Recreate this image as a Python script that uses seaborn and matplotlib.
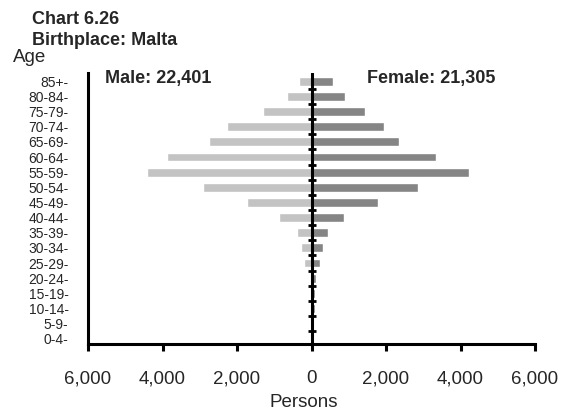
import matplotlib
matplotlib.use("Agg")
import matplotlib.pyplot as plt
import seaborn as sns
import pandas as pd
import numpy as np
from matplotlib.ticker import FuncFormatter

ages = ["85+", "80-84", "75-79", "70-74", "65-69", "60-64", "55-59", "50-54", "45-49",
        "40-44", "35-39", "30-34", "25-29", "20-24", "15-19", "10-14", "5-9", "0-4"]
male = [340, 663, 1307, 2274, 2757, 3885, 4422, 2918, 1737,
        878, 400, 270, 200, 50, 30, 30, 20, 20]
female = [565, 910, 1440, 1950, 2340, 3350, 4220, 2870, 1790,
          885, 450, 320, 240, 130, 90, 90, 20, 20]
xticks = [-6000, -4000, -2000, 0, 2000, 4000, 6000]

sns.set_theme(style="white")
plt.rcParams["font.family"] = ["Liberation Sans", "DejaVu Sans"]

df = pd.DataFrame({
    "age": ages * 2,
    "value": [-v for v in male] + female,
    "sex": ["Male"] * len(ages) + ["Female"] * len(ages),
})

W, H = 567, 412
fig = plt.figure(figsize=(W / 100, H / 100), dpi=100)
ax = fig.add_axes([88 / W, 1 - 344 / H, (535 - 88) / W, (344 - 73) / H])

sns.barplot(data=df, x="value", y="age", hue="sex", order=ages, dodge=False,
            palette={"Male": "#c3c3c3", "Female": "#858585"}, width=0.58,
            orient="h", legend=False, ax=ax, saturation=1)

ax.set_xlim(-6000, 6000)
ax.set_ylim(len(ages) - 1 + 0.35, -0.55)
ax.set_xticks(xticks)
ax.xaxis.set_major_formatter(FuncFormatter(lambda v, p: f"{abs(int(v)):,}"))
ax.set_yticks(range(len(ages)))
ax.set_yticklabels([a + "-" for a in ages])
ax.set_xlabel("Persons", fontsize=13.5, va="baseline")
ax.xaxis.set_label_coords(303.5 / W, 1 - 407 / H, transform=fig.transFigure)
ax.set_ylabel("")

for s in ["top", "right"]:
    ax.spines[s].set_visible(False)
for s in ["left", "bottom"]:
    ax.spines[s].set_linewidth(2.2)
    ax.spines[s].set_color("black")

ax.tick_params(axis="x", direction="out", length=5, width=2.2, color="black",
               labelsize=13.5, pad=14, bottom=True)
ax.tick_params(axis="y", length=0, labelsize=10, pad=14)

ax.axvline(0, color="black", lw=2.2, zorder=5)
bounds = np.arange(len(ages) - 1) + 0.5
ax.plot(np.zeros_like(bounds), bounds, ls="none", marker="_", ms=5.5, mew=2,
        color="black", zorder=6)

def ftext(x, y, s, **kw):
    fig.text(x / W, 1 - y / H, s, va="baseline", **kw)

ftext(32, 24, "Chart 6.26", fontsize=13, fontweight="bold")
ftext(32, 45, "Birthplace: Malta", fontsize=13, fontweight="bold")
ftext(13, 62, "Age", fontsize=13.5)
ftext(105, 83, "Male: 22,401", fontsize=13, fontweight="bold")
ftext(367, 83, "Female: 21,305", fontsize=13, fontweight="bold")

fig.savefig("out.png", dpi=100)
